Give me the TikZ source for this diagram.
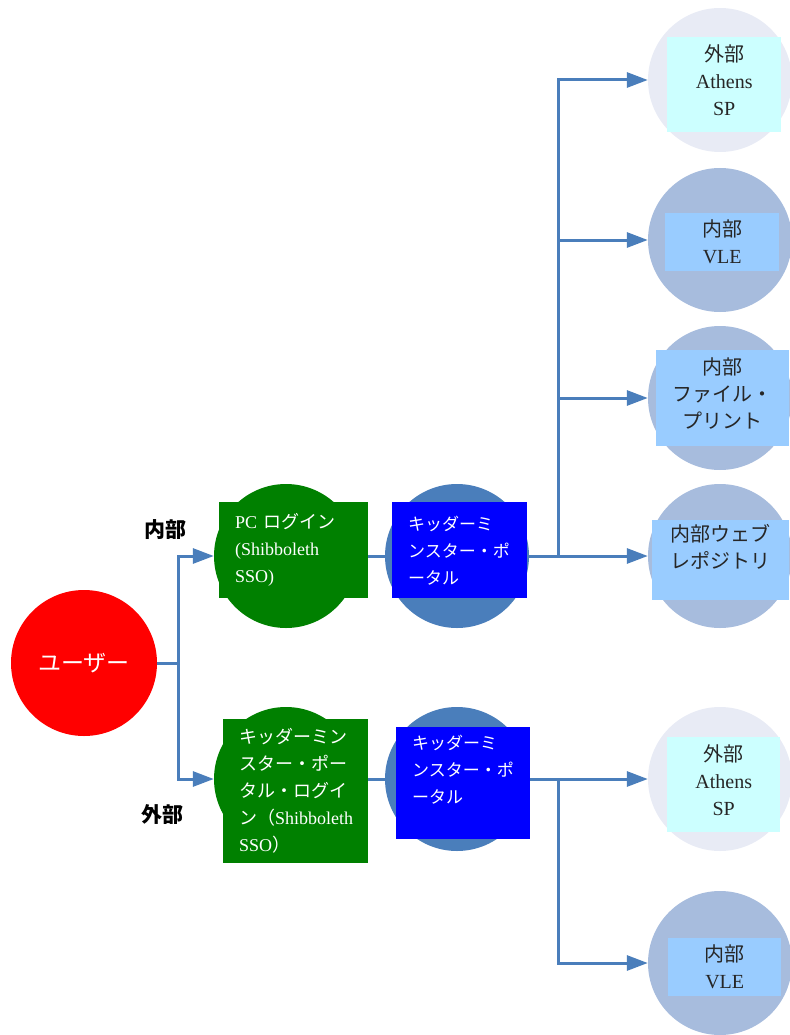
\documentclass[tikz,border=0pt]{standalone}
\usepackage{fontspec}
\setmainfont{Liberation Serif}
\newfontfamily\jp{Noto Sans CJK JP}
\usetikzlibrary{arrows.meta,positioning}
\definecolor{linkblue}{HTML}{4A7EBB}
\definecolor{paleball}{HTML}{E8EBF5}
\definecolor{midball}{HTML}{A7BCDD}
\definecolor{cyancard}{HTML}{CCFFFF}
\definecolor{skycard}{HTML}{99CCFF}
\definecolor{loginbox}{HTML}{008000}
\definecolor{portalbox}{HTML}{0000FF}

\begin{document}
\begin{tikzpicture}[
  x=1pt, y=-1pt,
  >={Triangle[length=21pt,width=15pt]},
  ball/.style={circle, inner sep=0pt, minimum size=144pt},
  card/.style={anchor=north west, inner ysep=0pt, inner xsep=0pt, align=center, text=black!85,
    font=\fontsize{20}{27}\selectfont},
  leftcard/.style={card, align=left, text=white, inner xsep=16pt, font=\fontsize{17}{27}\selectfont},
  flow/.style={draw=linkblue, line width=3pt},
  side/.style={font=\jp\bfseries\fontsize{21}{24}\selectfont},
  ]
  \useasboundingbox (0,0) rectangle (789,1035);

  \node[ball, fill=red, minimum size=146pt, text=white, font=\jp\fontsize{23}{26}\selectfont] (user) at (84,663) {ユーザー};
  \node[ball, fill=loginbox] (pcball) at (286,556) {};
  \node[ball, fill=linkblue] (portalA) at (457,556) {};
  \node[ball, fill=loginbox] (extball) at (286,779) {};
  \node[ball, fill=linkblue] (portalB) at (457,779) {};
  \node[ball, fill=paleball] (athensA) at (720,80) {};
  \node[ball, fill=midball] (vleA) at (720,240) {};
  \node[ball, fill=midball] (files) at (720,398) {};
  \node[ball, fill=midball] (webrepo) at (720,556) {};
  \node[ball, fill=paleball] (athensB) at (720,779) {};
  \node[ball, fill=midball] (vleB) at (720,963) {};

  \coordinate (split) at (178,663);
  \coordinate (fanA) at (558,556);
  \coordinate (fanB) at (558,779);

  \draw[flow] (user) -- (split);
  \draw[flow,->] (split) |- (pcball);
  \draw[flow,->] (split) |- (extball);
  \draw[flow] (pcball) -- (portalA);
  \draw[flow] (extball) -- (portalB);
  \draw[flow] (portalA) -- (fanA);
  \draw[flow] (portalB) -- (fanB);
  \draw[flow,->] (fanA) |- (athensA);
  \draw[flow,->] (fanA) |- (vleA);
  \draw[flow,->] (fanA) |- (files);
  \draw[flow,->] (fanA) -- (webrepo);
  \draw[flow,->] (fanB) -- (athensB);
  \draw[flow,->] (fanB) |- (vleB);

  \node[leftcard, fill=loginbox, text width=117pt, minimum height=96pt, font=\fontsize{18}{27}\selectfont] (pctext) at (219,502)
    {PC {\jp ログイン}\\(Shibboleth\\SSO)};
  \node[leftcard, fill=portalbox, text width=103pt, minimum height=96pt] (portalAtext) at (392,502)
    {{\jp キッダーミ}\\{\jp ンスター・ポ}\\{\jp ータル}};
  \node[leftcard, fill=loginbox, text width=113pt, minimum height=144pt, font=\fontsize{18}{27}\selectfont] (exttext) at (223,719)
    {{\jp キッダーミン}\\{\jp スター・ポー}\\{\jp タル・ログイ}\\{\jp ン（}Shibboleth\\SSO{\jp ）}};
  \node[leftcard, fill=portalbox, text width=102pt, minimum height=112pt] (portalBtext) at (396,727)
    {{\jp キッダーミ}\\{\jp ンスター・ポ}\\{\jp ータル}\\\mbox{}};

  \node[card, fill=cyancard, text width=114pt, minimum height=95pt] (athensAtext) at (667,37)
    {{\jp 外部}\\Athens\\SP\\[-17pt]\mbox{}};
  \node[card, fill=skycard, text width=114pt, minimum height=58pt] (vleAtext) at (665,213)
    {{\jp 内部}\\VLE};
  \node[card, fill=skycard, text width=133pt, minimum height=96pt] (filestext) at (656,350)
    {{\jp 内部}\\{\jp ファイル・}\\{\jp プリント}\\[-17pt]\mbox{}};
  \node[card, fill=skycard, text width=137pt, minimum height=80pt] (webrepotext) at (652,520)
    {{\jp 内部ウェブ}\\{\jp レポジトリ}\\\mbox{}};
  \node[card, fill=cyancard, text width=113pt, minimum height=95pt] (athensBtext) at (667,737)
    {{\jp 外部}\\Athens\\SP\\[-17pt]\mbox{}};
  \node[card, fill=skycard, text width=113pt, minimum height=58pt] (vleBtext) at (668,938)
    {{\jp 内部}\\VLE};

  \node[side] (inside) at (165,530) {内部};
  \node[side] (outside) at (162,815) {外部};
\end{tikzpicture}
\end{document}
